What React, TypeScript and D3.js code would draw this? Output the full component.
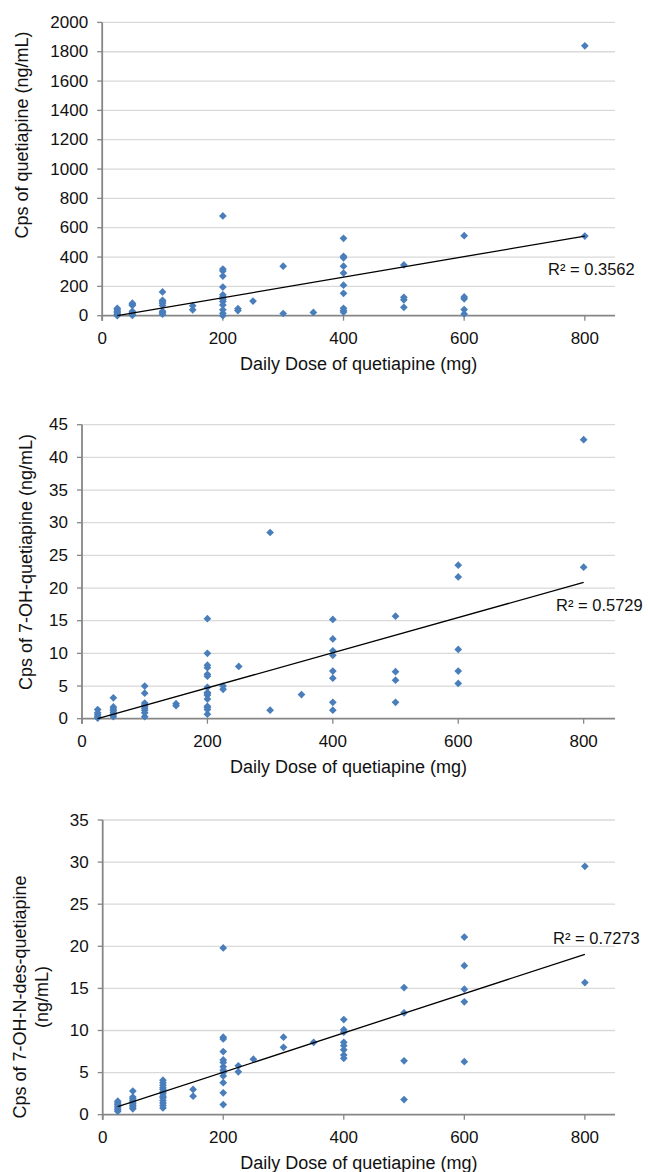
import React from 'react';
import * as d3 from 'd3';

// doses (mg) that appear on the x axis
const doses = [25, 50, 100, 150, 200, 225, 250, 300, 350, 400, 500, 600, 800];

// Cps of quetiapine (ng/mL), one list per dose
const quetiapine = [
  [50, 40, 30, 20, 12, 5, 0],
  [85, 78, 70, 30, 22, 10, 2],
  [162, 105, 95, 85, 70, 30, 20, 10],
  [68, 40],
  [680, 318, 305, 270, 195, 142, 128, 112, 96, 73, 40, 16, 0],
  [48, 35],
  [100],
  [338, 15],
  [22],
  [528, 405, 395, 338, 291, 208, 153, 50, 35, 25],
  [346, 125, 108, 57],
  [546, 128, 115, 42, 12],
  [1840, 543],
];

// Cps of 7-OH-quetiapine (ng/mL)
const ohQuetiapine = [
  [1.4, 0.9, 0.6, 0.3, 0.1],
  [3.2, 1.8, 1.5, 1.2, 0.9, 0.6, 0.3],
  [5.0, 3.9, 2.4, 2.1, 1.9, 1.6, 1.3, 0.9, 0.3],
  [2.3, 2.0],
  [15.3, 10.0, 8.2, 7.8, 6.8, 6.5, 4.8, 4.0, 3.8, 3.6, 3.0, 1.9, 1.7, 1.4, 0.7],
  [5.0, 4.5],
  [8.0],
  [28.5, 1.3],
  [3.7],
  [15.2, 12.2, 10.4, 9.7, 7.3, 6.2, 2.5, 1.3],
  [15.7, 7.2, 5.9, 2.5],
  [23.5, 21.7, 10.6, 7.3, 5.4],
  [42.7, 23.2],
];

// Cps of 7-OH-N-des-quetiapine (ng/mL)
const ohNDesQuetiapine = [
  [1.6, 1.4, 1.2, 1.0, 0.8, 0.6, 0.4],
  [2.8, 2.1, 1.9, 1.7, 1.5, 1.3, 1.1, 0.9, 0.7],
  [4.1, 3.8, 3.5, 3.2, 3.0, 2.7, 2.5, 2.2, 2.0, 1.7, 1.4, 1.1, 0.8],
  [3.0, 2.2],
  [19.8, 9.2, 9.0, 7.5, 6.5, 6.2, 5.7, 5.3, 5.0, 4.6, 3.8, 2.6, 1.2],
  [5.8, 5.1],
  [6.6],
  [9.2, 8.0],
  [8.6],
  [11.3, 10.1, 9.8, 8.6, 8.2, 7.7, 7.1, 6.7],
  [15.1, 12.1, 6.4, 1.8],
  [21.1, 17.7, 14.9, 13.4, 6.3],
  [29.5, 15.7],
];

// linear trendlines: [slope, intercept], and their R² labels
const trendQuetiapine = [0.7006, -17.5];
const trendOH = [0.02693, -0.673];
const trendOHN = [0.023355, 0.366];
const r2Labels = ['R² = 0.3562', 'R² = 0.5729', 'R² = 0.7273'];

const xTicks = [0, 200, 400, 600, 800];
const xTitle = 'Daily Dose of quetiapine (mg)';

const FONT = '"Liberation Sans", Arial, sans-serif';
const BLUE = '#4a7ebb';

type ChartProps = {
  values: number[][];
  trend: number[];
  label: string;
  yMax: number;
  yStep: number;
  left: number;
  top: number;
  bottom: number;
  yTitle: string[];
  yTitleX: number;
  yTitleY: number;
  labelPos: [number, number];
};

function Chart(p: ChartProps) {
  const right = 615;
  const x = d3.scaleLinear().domain([0, 850]).range([p.left, right]);
  const y = d3.scaleLinear().domain([0, p.yMax]).range([p.bottom, p.top]);
  const yTicks = d3.range(0, p.yMax + p.yStep / 2, p.yStep);
  const pts = doses.flatMap((d, i) => p.values[i].map(v => [d, v]));
  const diamond = d3.symbol().type(d3.symbolSquare).size(30)();
  const x0 = d3.min(doses)!;
  const x1 = d3.max(doses)!;
  const line = d3.line<number>().x(d => x(d)).y(d => y(p.trend[0] * d + p.trend[1]));

  return (
    <g fontFamily={FONT}>
      {yTicks.map(t => (
        <g key={t}>
          {t > 0 && <line x1={p.left} x2={right} y1={y(t)} y2={y(t)} stroke="#d9d9d9" strokeWidth={1.3} />}
          <line x1={p.left - 5} x2={p.left} y1={y(t)} y2={y(t)} stroke="#868686" strokeWidth={1.3} />
          <text x={p.left - 14} y={y(t)} textAnchor="end" dominantBaseline="central" fontSize={17} fill="#111">{t}</text>
        </g>
      ))}
      {xTicks.map(t => (
        <g key={t}>
          <line x1={x(t)} x2={x(t)} y1={p.bottom} y2={p.bottom + 5} stroke="#868686" strokeWidth={1.3} />
          <text x={x(t)} y={p.bottom + 23} textAnchor="middle" dominantBaseline="central" fontSize={17} fill="#111">{t}</text>
        </g>
      ))}
      <line x1={p.left} x2={p.left} y1={p.top} y2={p.bottom + 5} stroke="#868686" strokeWidth={1.8} />
      <line x1={p.left} x2={right} y1={p.bottom} y2={p.bottom} stroke="#868686" strokeWidth={1.8} />
      {pts.map(([d, v], i) => (
        <path key={i} d={diamond} transform={`translate(${x(d)},${y(v)}) rotate(45)`} fill={BLUE} />
      ))}
      <path d={line([x0, x1]) || ''} fill="none" stroke="#000" strokeWidth={1.3} />
      <text x={p.labelPos[0]} y={p.labelPos[1]} dominantBaseline="central" fontSize={16.5} fill="#111">{p.label}</text>
      <text x={(p.left + right) / 2} y={p.bottom + 48} textAnchor="middle" dominantBaseline="central" fontSize={18} fill="#111">{xTitle}</text>
      {p.yTitle.map((s, i) => (
        <text key={i} transform={`translate(${p.yTitleX + i * 22},${p.yTitleY}) rotate(-90)`} textAnchor="middle"
          dominantBaseline="central" fontSize={18} fill="#111">{s}</text>
      ))}
    </g>
  );
}

export default function App() {
  return (
    <svg width={648} height={1172} style={{ position: 'absolute', left: 0, top: 0, background: '#fff' }}>
      <Chart values={quetiapine} trend={trendQuetiapine} label={r2Labels[0]} yMax={2000} yStep={200}
        left={102.2} top={22.4} bottom={315.7} yTitle={['Cps of quetiapine (ng/mL)']} yTitleX={21.5} yTitleY={135}
        labelPos={[548, 269]} />
      <Chart values={ohQuetiapine} trend={trendOH} label={r2Labels[1]} yMax={45} yStep={5}
        left={82} top={424.7} bottom={718.7} yTitle={['Cps of 7-OH-quetiapine (ng/mL)']} yTitleX={26} yTitleY={562}
        labelPos={[556, 605]} />
      <Chart values={ohNDesQuetiapine} trend={trendOHN} label={r2Labels[2]} yMax={35} yStep={5}
        left={102.7} top={820} bottom={1114.7} yTitle={['Cps of 7-OH-N-des-quetiapine', '(ng/mL)']} yTitleX={20} yTitleY={997}
        labelPos={[553, 938]} />
    </svg>
  );
}
